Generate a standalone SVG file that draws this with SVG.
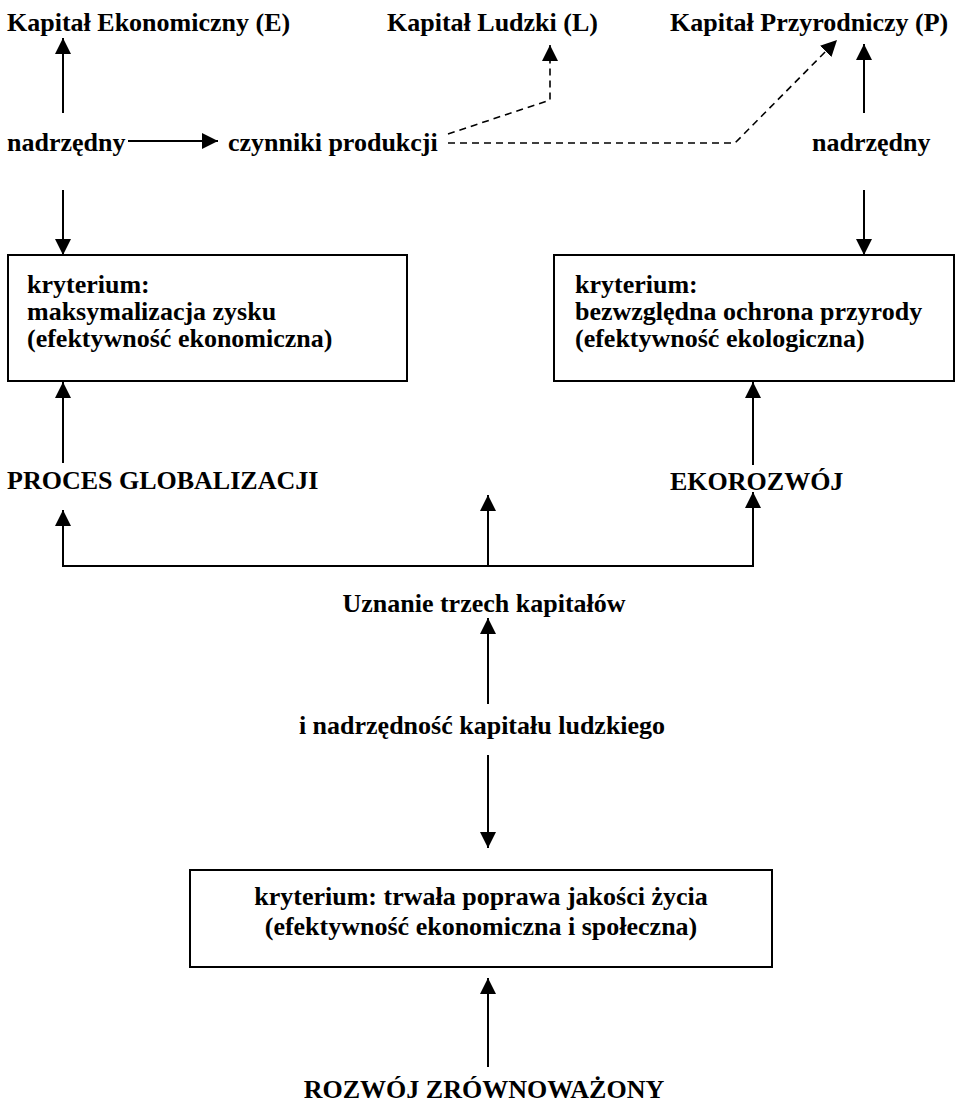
<svg xmlns="http://www.w3.org/2000/svg" width="957" height="1104" viewBox="0 0 957 1104">
<style>
text{font-family:'Liberation Serif','Times New Roman',serif;font-weight:700;font-size:26px;fill:#000}
.c{text-anchor:middle}
.box{fill:#fff;stroke:#000;stroke-width:2}
.ln{fill:none;stroke:#000;stroke-width:2}
.ds{fill:none;stroke:#000;stroke-width:1.6;stroke-dasharray:7,5}
</style>
<defs>
<marker id="ah" viewBox="0 0 10 10" refX="10" refY="5" markerWidth="16" markerHeight="16" markerUnits="userSpaceOnUse" orient="auto">
<path d="M0,0 L10,5 L0,10 Z" fill="#000"/>
</marker>
</defs>
<rect width="957" height="1104" fill="#fff"/>
<g id="connectors">
<line class="ln" x1="63" y1="113" x2="63" y2="38" marker-end="url(#ah)"/>
<line class="ln" x1="128" y1="141" x2="218" y2="141" marker-end="url(#ah)"/>
<polyline class="ds" points="448,134 550,100 550,45" marker-end="url(#ah)"/>
<polyline class="ds" points="448,143 735,143 837,40" marker-end="url(#ah)"/>
<line class="ln" x1="864" y1="113" x2="864" y2="44" marker-end="url(#ah)"/>
<line class="ln" x1="63" y1="190" x2="63" y2="255" marker-end="url(#ah)"/>
<line class="ln" x1="864" y1="190" x2="864" y2="255" marker-end="url(#ah)"/>
<line class="ln" x1="63" y1="463" x2="63" y2="382" marker-end="url(#ah)"/>
<line class="ln" x1="753" y1="465" x2="753" y2="382" marker-end="url(#ah)"/>
<polyline class="ln" points="63,510 63,566 753,566 753,492" marker-end="url(#ah)"/>
<line class="ln" x1="63" y1="530" x2="63" y2="510" marker-end="url(#ah)"/>
<line class="ln" x1="488" y1="566" x2="488" y2="495" marker-end="url(#ah)"/>
<line class="ln" x1="488" y1="704" x2="488" y2="618" marker-end="url(#ah)"/>
<line class="ln" x1="488" y1="755" x2="488" y2="848" marker-end="url(#ah)"/>
<line class="ln" x1="488" y1="1067" x2="488" y2="978" marker-end="url(#ah)"/>
</g>
<g id="kapital-e"><text x="7" y="31">Kapitał Ekonomiczny (E)</text></g>
<g id="kapital-l"><text x="387" y="31">Kapitał Ludzki (L)</text></g>
<g id="kapital-p"><text x="670" y="31">Kapitał Przyrodniczy (P)</text></g>
<g id="nadrzedny-left"><text x="7" y="151">nadrzędny</text></g>
<g id="czynniki"><text x="228" y="151">czynniki produkcji</text></g>
<g id="nadrzedny-right"><text x="812" y="151">nadrzędny</text></g>
<g id="box-left">
<rect class="box" x="8" y="255" width="399" height="126"/>
<text x="27" y="293">kryterium:</text>
<text x="27" y="320">maksymalizacja zysku</text>
<text x="27" y="347">(efektywność ekonomiczna)</text>
</g>
<g id="box-right">
<rect class="box" x="554" y="255" width="400" height="126"/>
<text x="575" y="293">kryterium:</text>
<text x="575" y="320">bezwzględna ochrona przyrody</text>
<text x="575" y="347">(efektywność ekologiczna)</text>
</g>
<g id="globalizacja"><text x="7" y="489">PROCES GLOBALIZACJI</text></g>
<g id="ekorozwoj"><text x="670" y="490">EKOROZWÓJ</text></g>
<g id="uznanie"><text class="c" x="484" y="612">Uznanie trzech kapitałów</text></g>
<g id="nadrzednosc"><text class="c" x="482" y="734">i nadrzędność kapitału ludzkiego</text></g>
<g id="box-bottom">
<rect class="box" x="190" y="870" width="582" height="97"/>
<text class="c" x="481" y="905">kryterium: trwała poprawa jakości życia</text>
<text class="c" x="481" y="935">(efektywność ekonomiczna i społeczna)</text>
</g>
<g id="rozwoj"><text class="c" x="484" y="1098">ROZWÓJ ZRÓWNOWAŻONY</text></g>
</svg>
